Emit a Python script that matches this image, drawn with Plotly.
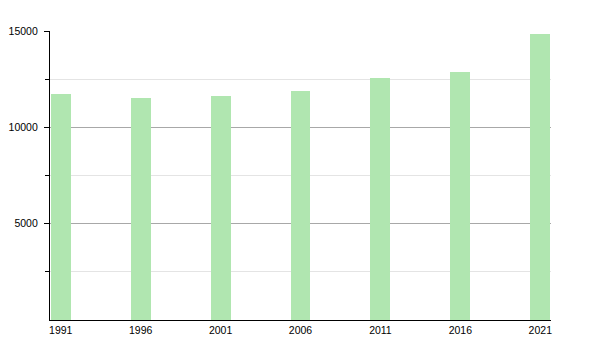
import plotly.graph_objects as go

years = [1991, 1996, 2001, 2006, 2011, 2016, 2021]
population = [11740, 11540, 11650, 11880, 12570, 12890, 14860]
y_ticks = [5000, 10000, 15000]
y_minor = [2500, 7500, 12500]

fig = go.Figure(go.Bar(
    x=years, y=population, width=1.25,
    marker=dict(color="#b0e6b0", line=dict(width=0)),
    hoverinfo="x+y",
))

font = dict(family="Liberation Sans, Arial, sans-serif", size=10.5, color="#000")

fig.update_layout(
    width=600, height=350,
    margin=dict(l=50, r=49, t=31, b=30),
    paper_bgcolor="white", plot_bgcolor="white",
    showlegend=False, bargap=0,
    font=font,
)
fig.update_xaxes(
    range=[1990.33, 2021.67], automargin=False,
    tickmode="array", tickvals=years, ticktext=[str(y) for y in years],
    ticks="", showgrid=False, zeroline=False,
    showline=True, linecolor="#000", linewidth=1.2,
    tickfont=font, fixedrange=True, layer="above traces",
)
fig.update_yaxes(
    range=[0, 15000], automargin=False,
    tickmode="array", tickvals=y_ticks, ticktext=[str(v) for v in y_ticks],
    ticks="outside", ticklen=5, tickcolor="#000", tickwidth=1,
    ticklabelstandoff=4,
    showgrid=True, gridcolor="#a8a8a8", gridwidth=1,
    zeroline=False, showline=True, linecolor="#000", linewidth=1.2,
    minor=dict(tickmode="array", tickvals=y_minor, ticks="outside", ticklen=4,
               tickcolor="#000", showgrid=True, gridcolor="#e4e4e4", gridwidth=1),
    tickfont=font, fixedrange=True, layer="below traces",
)

fig.write_html("out.html")
